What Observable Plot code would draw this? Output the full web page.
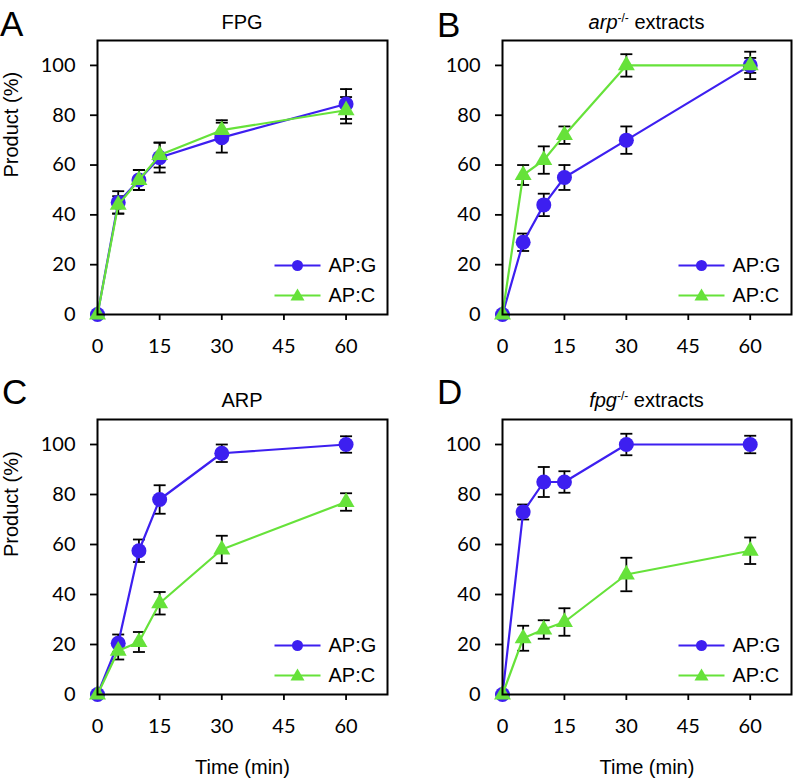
<!DOCTYPE html>
<html><head><meta charset="utf-8">
<script src="https://cdn.jsdelivr.net/npm/d3@7"></script>
<script src="https://cdn.jsdelivr.net/npm/@observablehq/plot@0.6"></script>
<style>
body{margin:0;background:#fff;}
#root{position:relative;width:793px;height:780px;overflow:hidden;background:#fff;}
.panel{position:absolute;}
.title{position:absolute;font-family:"Liberation Sans",Arial,sans-serif;font-size:20px;line-height:1;transform:translate(-50%,-50%);white-space:nowrap;color:#000;}
.title sup{font-size:0.6em;vertical-align:0;position:relative;top:-0.55em;line-height:0;}
.letter{position:absolute;font-family:"Liberation Sans",Arial,sans-serif;font-size:35px;line-height:1;transform:translateY(-50%);color:#000;}
</style></head><body><div id="root"></div>
<script>
// ---- data ----
const times = [0, 5, 10, 15, 30, 60];
const seriesNames = ["AP:G", "AP:C"];
const panelLetters = ["A", "B", "C", "D"];
const panelTitles = ["FPG", "<i>arp</i><sup>-/-</sup> extracts", "ARP", "<i>fpg</i><sup>-/-</sup> extracts"];
const xTicks = [0, 15, 30, 45, 60];
const yTicks = [0, 20, 40, 60, 80, 100];
const xLabel = "Time (min)";
const yLabel = "Product (%)";

// A: FPG
const fpgG = [0, 45, 54, 63, 71, 84.5];
const fpgGErr = [0, 4.5, 4, 6, 6, 6];
const fpgC = [0, 44, 54, 64, 74, 82];
const fpgCErr = [0, 3.5, 4, 5, 4, 5.3];
// B: arp-/- extracts
const arpExtG = [0, 29, 44, 55, 70, 100];
const arpExtGErr = [0, 3.5, 4.5, 5, 5.5, 5.5];
const arpExtC = [0, 56, 62, 72, 100, 100];
const arpExtCErr = [0, 4, 5.5, 3.5, 4.5, 3];
// C: ARP
const arpG = [0, 20.5, 57.5, 78, 96.5, 100];
const arpGErr = [0, 3.5, 4.5, 5.7, 3.5, 3.3];
const arpC = [0, 17.5, 21, 36.5, 58, 77];
const arpCErr = [0, 3.5, 4, 4.5, 5.5, 3.5];
// D: fpg-/- extracts
const fpgExtG = [0, 73, 85, 85, 100, 100];
const fpgExtGErr = [0, 3, 6, 4.3, 4.3, 3.5];
const fpgExtC = [0, 22.5, 26, 29, 48, 57.5];
const fpgExtCErr = [0, 5, 3.7, 5.5, 6.7, 5.3];

const panelData = [
  [fpgG, fpgGErr, fpgC, fpgCErr],
  [arpExtG, arpExtGErr, arpExtC, arpExtCErr],
  [arpG, arpGErr, arpC, arpCErr],
  [fpgExtG, fpgExtGErr, fpgExtC, fpgExtCErr]
];

// ---- style ----
const BLUE = "#3d1ff0";
const GREEN = "#66e23a";
const TICK_FONT = "Lato";
const TEXT_FONT = "Liberation Sans";

const layouts = [
  {left: 0,   top: 0,   width: 400, height: 390, mt: 40, mb: 76, ml: 97, mr: 13, yl: true,  xl: false, tx: 242,   ty: 21.5, lx: 0,   ly: 22.5},
  {left: 405, top: 0,   width: 388, height: 390, mt: 40, mb: 76, ml: 97, mr: 2,  yl: false, xl: false, tx: 646.5, ty: 21.5, lx: 437, ly: 24},
  {left: 0,   top: 380, width: 400, height: 400, mt: 39, mb: 86, ml: 97, mr: 13, yl: true,  xl: true,  tx: 242,   ty: 400,  lx: 2,   ly: 391},
  {left: 405, top: 380, width: 388, height: 400, mt: 39, mb: 86, ml: 97, mr: 2,  yl: false, xl: true,  tx: 646.5, ty: 400,  lx: 437, ly: 391}
];

const capSymbol = {draw(ctx) { ctx.moveTo(-6, 0); ctx.lineTo(6, 0); }};
const legendLine = {draw(ctx) { ctx.moveTo(-23, 0); ctx.lineTo(23, 0); }};

const root = document.getElementById("root");

panelData.forEach(([g, ge, c, ce], p) => {
  const L = layouts[p];
  const rowsG = times.map((t, i) => ({t, v: g[i], e: ge[i]}));
  const rowsC = times.map((t, i) => ({t, v: c[i], e: ce[i]}));
  const errRows = [...rowsG, ...rowsC].filter(d => d.e > 0);

  const legendMarks = [];
  [[seriesNames[0], BLUE, "circle", 5.5, -49], [seriesNames[1], GREEN, "triangle", 5.2, -19]].forEach(([name, col, sym, r, dy]) => {
    legendMarks.push(
      Plot.dot([name], {frameAnchor: "bottom-right", dx: -90, dy, symbol: legendLine, fill: "none", stroke: col, strokeWidth: 2.2}),
      Plot.dot([name], {frameAnchor: "bottom-right", dx: -90, dy: sym === "triangle" ? dy + 1 : dy, symbol: sym, r, fill: col, stroke: "none"}),
      Plot.text([name], {frameAnchor: "bottom-right", dx: -59, dy, text: d => d, textAnchor: "start", lineAnchor: "middle", fontSize: 20, fontFamily: TEXT_FONT, fill: "black"})
    );
  });

  const marks = [
    Plot.axisX({ticks: xTicks, tickSize: 6, tickPadding: 18, strokeWidth: 1.8, label: null}),
    Plot.axisY({ticks: yTicks, tickSize: 7, tickPadding: 15, strokeWidth: 1.8, label: null}),
    Plot.ruleX(errRows, {x: "t", y1: d => d.v - d.e, y2: d => d.v + d.e, stroke: "black", strokeWidth: 1.8}),
    Plot.dot(errRows, {x: "t", y: d => d.v + d.e, symbol: capSymbol, fill: "none", stroke: "black", strokeWidth: 1.8}),
    Plot.dot(errRows, {x: "t", y: d => d.v - d.e, symbol: capSymbol, fill: "none", stroke: "black", strokeWidth: 1.8}),
    Plot.line(rowsG, {x: "t", y: "v", stroke: BLUE, strokeWidth: 2.2}),
    Plot.dot(rowsG, {x: "t", y: "v", r: 7.5, fill: BLUE, stroke: "none"}),
    Plot.line(rowsC, {x: "t", y: "v", stroke: GREEN, strokeWidth: 2.2}),
    Plot.dot(rowsC, {x: "t", y: "v", symbol: "triangle", r: 6.3, fill: GREEN, stroke: "none"}),
    ...legendMarks,
    Plot.frame({stroke: "black", strokeWidth: 2})
  ];
  if (L.yl) marks.push(Plot.text([yLabel], {frameAnchor: "left", dx: -86, rotate: -90, text: d => d, fontSize: 20, fontFamily: TEXT_FONT, fill: "black"}));
  if (L.xl) marks.push(Plot.text([xLabel], {frameAnchor: "bottom", dy: 79, lineAnchor: "bottom", text: d => d, fontSize: 20, fontFamily: TEXT_FONT, fill: "black"}));

  const chart = Plot.plot({
    width: L.width, height: L.height,
    marginLeft: L.ml, marginRight: L.mr, marginTop: L.mt, marginBottom: L.mb,
    x: {domain: [0, 70]},
    y: {domain: [0, 110]},
    style: {fontFamily: TICK_FONT, fontSize: "20px", color: "black", background: "transparent", overflow: "visible"},
    marks
  });
  const wrap = document.createElement("div");
  wrap.className = "panel";
  wrap.style.left = L.left + "px";
  wrap.style.top = L.top + "px";
  wrap.appendChild(chart);
  root.appendChild(wrap);

  const title = document.createElement("div");
  title.className = "title";
  title.style.left = L.tx + "px";
  title.style.top = L.ty + "px";
  title.innerHTML = panelTitles[p];
  root.appendChild(title);

  const letter = document.createElement("div");
  letter.className = "letter";
  letter.style.left = L.lx + "px";
  letter.style.top = L.ly + "px";
  letter.textContent = panelLetters[p];
  root.appendChild(letter);
});
</script></body></html>
